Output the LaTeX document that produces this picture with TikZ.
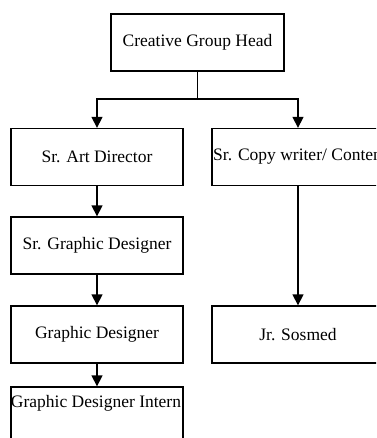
\documentclass[tikz,border=0pt]{standalone}
\usepackage{fontspec}
\setmainfont{Liberation Serif}
\usetikzlibrary{arrows.meta}
\begin{document}
\begin{tikzpicture}[x=1pt,y=-1pt,
  txt/.style={font=\fontsize{17.5}{21}\selectfont},
  box/.style={draw=black,line width=1.3pt,minimum width=172pt,minimum height=57pt,inner sep=0pt,txt},
  arr/.style={draw=black,line width=1.3pt,-{Triangle[length=11pt,width=11pt]}},
  ln/.style={draw=black,line width=1.3pt}]
\useasboundingbox (0,0) rectangle (376,438);
\clip (0,0) rectangle (376,438);
\node[box,minimum width=173pt] (cgh) at (197.5,42.5) {Creative Group Head};
\node[box] (sad) at (97,157) {Sr. Art Director};
\node[box] (scw) at (298,157) {};
\node[anchor=west,inner sep=0pt,txt] (scwt) at (213,157) {Sr. Copy writer/ Conten};
\node[box] (sgd) at (97,245.5) {Sr. Graphic Designer};
\node[box] (gd) at (97,334.5) {Graphic Designer};
\node[box] (jr) at (298,334.5) {Jr. Sosmed};
\node[box,minimum height=70pt] (gdi) at (97,422) {};
\node[inner sep=0pt,txt] (gdit) at (96,403) {Graphic Designer Intern};
\coordinate (j) at (197.5,99);
\draw[ln] (cgh.south) -- (j);
\draw[arr] (j) -| (sad.north);
\draw[arr] (j) -| (scw.north);
\draw[arr] (sad) -- (sgd);
\draw[arr] (sgd) -- (gd);
\draw[arr] (gd) -- (gdi);
\draw[arr] (scw) -- (jr);
\end{tikzpicture}
\end{document}
